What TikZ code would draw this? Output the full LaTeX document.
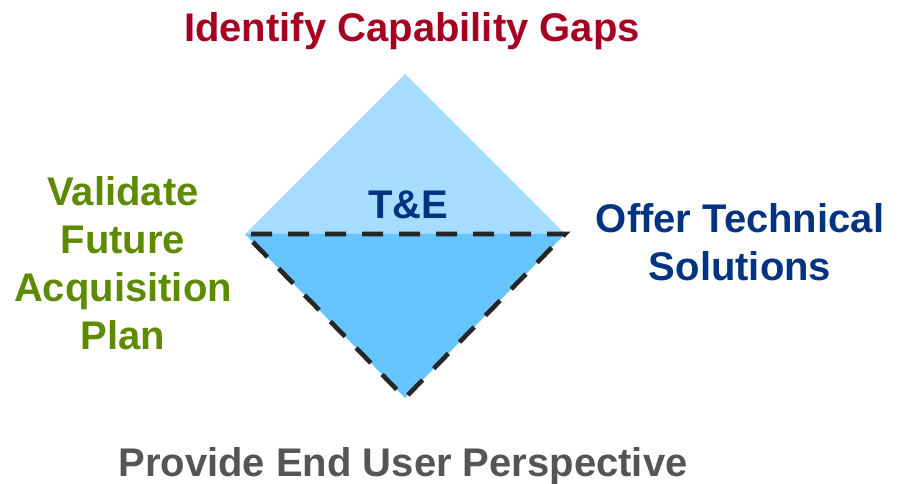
\documentclass[tikz,border=0pt]{standalone}
\usepackage{fontspec}
\setmainfont{Liberation Sans}

\definecolor{gapred}{RGB}{165,0,33}
\definecolor{plangreen}{RGB}{94,138,0}
\definecolor{solnavy}{RGB}{0,51,128}
\definecolor{usergrey}{RGB}{85,85,85}
\definecolor{topblue}{RGB}{166,220,255}
\definecolor{lowblue}{RGB}{102,196,255}

\tikzset{
    goal/.style={anchor=base, align=center, inner sep=0pt, font=\bfseries\fontsize{40bp}{48bp}\selectfont},
    rim/.style={line width=4.6bp, color=black!85, dash pattern=on 21bp off 16bp}
}

\begin{document}
\begin{tikzpicture}[x=1bp, y=-1bp]
    \useasboundingbox (0, 0) rectangle (905, 484);
    \coordinate (top) at (405, 74);
    \coordinate (left) at (245, 234);
    \coordinate (right) at (565, 234);
    \coordinate (bottom) at (405, 398);
    \fill [topblue] (left) -- (top) -- (right) -- cycle;
    \fill [lowblue] (left) -- (right) -- (bottom) -- cycle;
    \draw [rim] (251, 234) -- (right) -- (bottom) -- (left);
    \node [goal, text=solnavy] (te) at (408, 219) {T\&E};
    \node [goal, text=gapred] (gaps) at (412, 42) {Identify Capability Gaps};
    % multi-line nodes sit on the baseline of their last line
    \node [goal, text=plangreen] (plan) at (123, 350) {Validate\\Future\\Acquisition\\Plan};
    \node [goal, text=solnavy] (solve) at (740, 281) {Offer Technical\\Solutions};
    \node [goal, text=usergrey] (user) at (403, 476) {Provide End User Perspective};
\end{tikzpicture}
\end{document}
